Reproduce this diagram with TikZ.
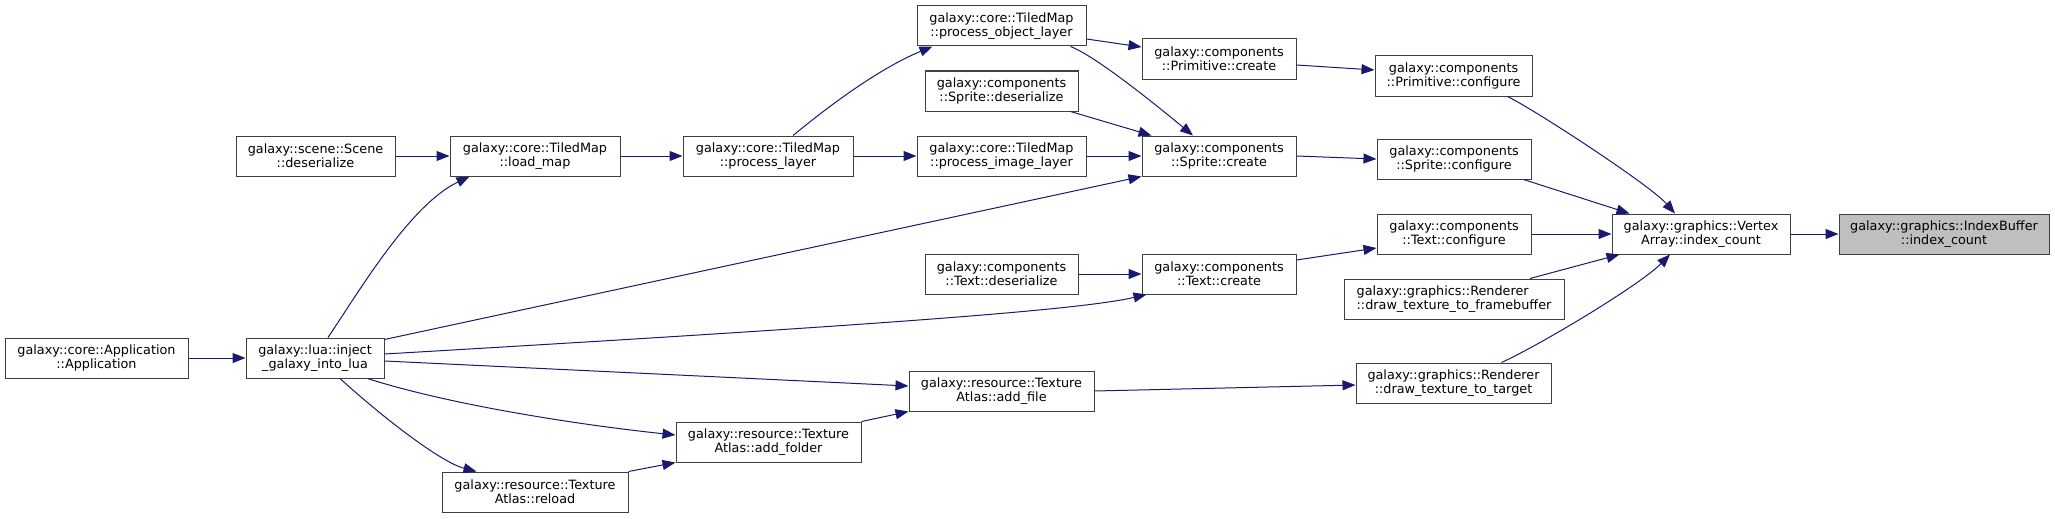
\documentclass[tikz,border=0pt]{standalone}
\usepackage{fontspec}
\setmainfont{DejaVu Sans}
\usepackage{tikz}
\usetikzlibrary{arrows.meta}

\begin{document}
\begin{tikzpicture}[x=1pt, y=-1pt,
    fn/.style={draw=boxgray, line width=1pt, fill=white, align=center,
        inner sep=0pt, minimum height=40pt, font=\fontsize{12.8}{14.3}\selectfont},
    call/.style={draw=edgeblue, line width=1pt, -{Triangle[length=13pt,width=10pt]}}]
    % Define colors
    \definecolor{edgeblue}{RGB}{25, 25, 112}
    \definecolor{boxgray}{RGB}{64, 64, 64}
    \definecolor{focusgray}{RGB}{191, 191, 191}

    \useasboundingbox (0,0) rectangle (2055,519);

    % Callers on the left
    \node[fn, minimum width=183pt] (app) at (96.5,358) {galaxy::core::Application\\::Application};
    \node[fn, minimum width=138pt] (inject) at (315,358) {galaxy::lua::inject\\\_galaxy\_into\_lua};
    \node[fn, minimum width=159pt] (scene) at (315.5,156) {galaxy::scene::Scene\\::deserialize};
    \node[fn, minimum width=170pt] (loadmap) at (535,156) {galaxy::core::TiledMap\\::load\_map};
    \node[fn, minimum width=186pt] (reload) at (535,492) {galaxy::resource::Texture\\Atlas::reload};
    \node[fn, minimum width=170pt] (proclayer) at (768,156) {galaxy::core::TiledMap\\::process\_layer};
    \node[fn, minimum width=185pt] (addfolder) at (768.5,442) {galaxy::resource::Texture\\Atlas::add\_folder};

    % Middle column
    \node[fn, minimum width=169pt] (procobj) at (1001.5,26) {galaxy::core::TiledMap\\::process\_object\_layer};
    \node[fn, minimum width=153pt] (sprdeser) at (1001.5,91) {galaxy::components\\::Sprite::deserialize};
    \node[fn, minimum width=169pt] (procimg) at (1001.5,156) {galaxy::core::TiledMap\\::process\_image\_layer};
    \node[fn, minimum width=153pt] (txtdeser) at (1001.5,274) {galaxy::components\\::Text::deserialize};
    \node[fn, minimum width=185pt] (addfile) at (1001.5,391) {galaxy::resource::Texture\\Atlas::add\_file};
    \node[fn, minimum width=154pt] (primcreate) at (1219,59) {galaxy::components\\::Primitive::create};
    \node[fn, minimum width=154pt] (sprcreate) at (1219,156) {galaxy::components\\::Sprite::create};
    \node[fn, minimum width=154pt] (txtcreate) at (1219,274) {galaxy::components\\::Text::create};

    % Direct callers of the vertex array
    \node[fn, minimum width=157pt] (primconf) at (1453.5,76) {galaxy::components\\::Primitive::configure};
    \node[fn, minimum width=154pt] (sprconf) at (1454,159) {galaxy::components\\::Sprite::configure};
    \node[fn, minimum width=154pt] (txtconf) at (1454,234) {galaxy::components\\::Text::configure};
    \node[fn, minimum width=220pt, align=left] (fbuf) at (1454,299) {galaxy::graphics::Renderer\\::draw\_texture\_to\_framebuffer};
    \node[fn, minimum width=195pt] (target) at (1453.5,383) {galaxy::graphics::Renderer\\::draw\_texture\_to\_target};
    \node[fn, minimum width=178pt] (vertex) at (1701,234) {galaxy::graphics::Vertex\\Array::index\_count};
    \node[fn, minimum width=210pt, fill=focusgray] (indexbuf) at (1944,234) {galaxy::graphics::IndexBuffer\\::index\_count};

    % Edges out of inject_galaxy_into_lua
    \draw[call] (app.east) -- (inject.west);
    \draw[call] ([xshift=13pt]inject.north) .. controls (360,290) and (410,205) .. ([xshift=20pt]loadmap.south west);
    \draw[call] ([yshift=-2pt]inject.north east) -- (sprcreate.south west);
    \draw[call] ([yshift=4pt]inject.east) .. controls (880,325) and (1080,310) .. ([xshift=5pt]txtcreate.south west);
    \draw[call] ([yshift=-3pt]inject.east) -- ([yshift=5pt]addfile.west);
    \draw[call] ([xshift=-17pt]inject.south east) .. controls (450,405) and (580,425) .. ([yshift=7pt]addfolder.west);
    \draw[call] ([xshift=25pt]inject.south) .. controls (380,415) and (440,462) .. ([xshift=35pt]reload.north west);

    % Tiled map edges
    \draw[call] (scene.east) -- (loadmap.west);
    \draw[call] (loadmap.east) -- (proclayer.west);
    \draw[call] ([xshift=25pt]proclayer.north) .. controls (830,105) and (880,68) .. ([xshift=16pt]procobj.south west);
    \draw[call] (proclayer.east) -- (procimg.west);
    \draw[call] ([yshift=-13pt]procobj.east) -- ([yshift=12pt]primcreate.west);
    \draw[call] ([xshift=-16pt]procobj.south east) .. controls (1095,56) and (1150,100) .. ([xshift=-26pt]sprcreate.north);
    \draw[call] ([xshift=-8pt]sprdeser.south east) -- ([xshift=10pt]sprcreate.north west);
    \draw[call] (procimg.east) -- (sprcreate.west);
    \draw[call] (txtdeser.east) -- (txtcreate.west);

    % Texture atlas edges
    \draw[call] (reload.north east) -- (addfolder.south west);
    \draw[call] (addfolder.north east) -- (addfile.south west);
    \draw[call] (addfile.east) -- ([yshift=-2pt]target.west);

    % Component edges
    \draw[call] ([yshift=-6pt]primcreate.east) -- ([yshift=6pt]primconf.west);
    \draw[call] (sprcreate.east) -- (sprconf.west);
    \draw[call] ([yshift=14pt]txtcreate.east) -- ([yshift=-14pt]txtconf.west);

    % Into the vertex array and the index buffer
    \draw[call] ([xshift=-25pt]primconf.south east) .. controls (1535,110) and (1650,185) .. ([xshift=-26pt]vertex.north);
    \draw[call] ([xshift=-8pt]sprconf.south east) -- ([xshift=18pt]vertex.north west);
    \draw[call] (txtconf.east) -- (vertex.west);
    \draw[call] ([xshift=76pt]fbuf.north) -- ([xshift=8pt]vertex.south west);
    \draw[call] ([xshift=48pt]target.north) .. controls (1540,345) and (1640,285) .. ([xshift=-31pt]vertex.south);
    \draw[call] (vertex.east) -- (indexbuf.west);
\end{tikzpicture}
\end{document}
